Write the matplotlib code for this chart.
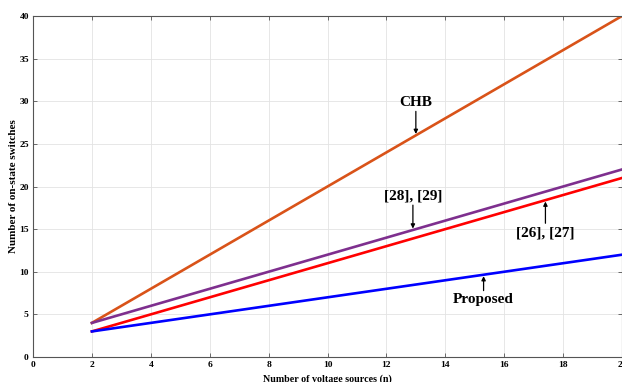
import matplotlib.pyplot as plt

# number of voltage sources and on-state switch counts per topology
n_sources = [2, 4, 6, 8, 10, 12, 14, 16, 18, 20]
chb = [4, 8, 12, 16, 20, 24, 28, 32, 36, 40]
ref_28_29 = [4, 6, 8, 10, 12, 14, 16, 18, 20, 22]
ref_26_27 = [3, 5, 7, 9, 11, 13, 15, 17, 19, 21]
proposed = [3, 4, 5, 6, 7, 8, 9, 10, 11, 12]

x_ticks = [0, 2, 4, 6, 8, 10, 12, 14, 16, 18, 20]
y_ticks = [0, 5, 10, 15, 20, 25, 30, 35, 40]

plt.rcParams['font.family'] = ['Liberation Serif', 'DejaVu Serif']
plt.rcParams['font.weight'] = 'bold'

fig = plt.figure(figsize=(6.22, 3.82), dpi=100)
ax = fig.add_axes([33 / 622, 25 / 382, 1 - 33 / 622, 341 / 382])

ax.plot(n_sources, chb, color='#D95319', lw=1.9)
ax.plot(n_sources, ref_28_29, color='#7E2F8E', lw=1.9)
ax.plot(n_sources, ref_26_27, color='#FF0000', lw=1.9)
ax.plot(n_sources, proposed, color='#0000FF', lw=1.9)

ax.set_xlim(0, 20)
ax.set_ylim(0, 40)
ax.set_xticks(x_ticks)
ax.set_yticks(y_ticks)
ax.tick_params(direction='in', top=True, right=True, labelsize=6.8,
               length=3, width=0.6, color='#555555', pad=3)
ax.grid(True, color='#e3e3e3', lw=0.6)
ax.set_axisbelow(True)
for sp in ax.spines.values():
    sp.set_color('#555555')
    sp.set_linewidth(0.8)

ax.set_xlabel('Number of voltage sources (n)', fontsize=7.2, fontweight='bold', labelpad=4)
ax.set_ylabel('Number of on-state switches', fontsize=8, fontweight='bold', labelpad=1)

arrow = dict(arrowstyle='-|>', color='black', lw=0.9, mutation_scale=6,
             shrinkA=0, shrinkB=1)
txt = dict(fontsize=11, fontweight='bold', ha='center', va='center')

ax.annotate('CHB', xy=(13, 26), xytext=(13, 29.9), arrowprops=arrow, **txt)
ax.annotate('[28], [29]', xy=(12.9, 14.9), xytext=(12.9, 18.9), arrowprops=arrow, **txt)
ax.annotate('[26], [27]', xy=(17.4, 18.4), xytext=(17.4, 14.6), arrowprops=arrow, **txt)
ax.annotate('Proposed', xy=(15.3, 9.65), xytext=(15.3, 6.7), arrowprops=arrow, **txt)

fig.savefig('out.png', dpi=100)
